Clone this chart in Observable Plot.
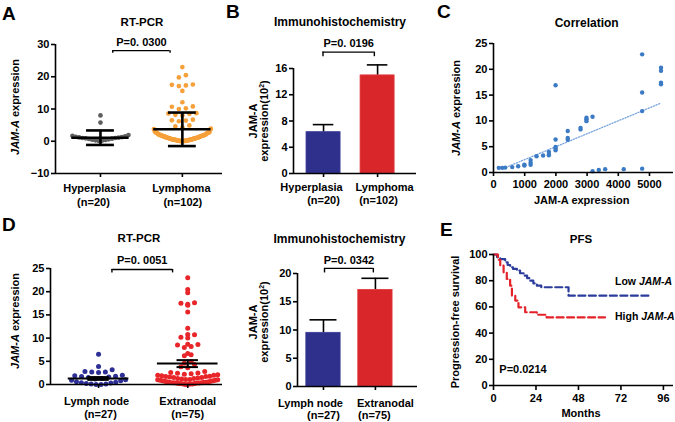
<!DOCTYPE html>
<html>
<head>
<meta charset="utf-8">
<script src="https://cdn.jsdelivr.net/npm/d3@7"></script>
<script src="https://cdn.jsdelivr.net/npm/@observablehq/plot@0.6"></script>
<style>
  html, body { margin: 0; padding: 0; background: #fff; }
  #fig { position: relative; width: 675px; height: 422px; overflow: hidden;
         font-family: "Liberation Sans", Arial, Helvetica, sans-serif; font-weight: bold; color: #000; }
  .txt { position: absolute; white-space: nowrap; line-height: 1; }
  .vtxt { position: absolute; white-space: nowrap; text-align: center; }
  sup { font-size: 7px; vertical-align: 4px; line-height: 0; }
</style>
</head>
<body>
<div id="fig"></div>
<script>
// ---------------- DATA ----------------
// Panel A / D : RT-PCR JAM-A expression (individual samples)
const hyperplasiaRT = [8.0, 5.8, 1.9, 1.7, 1.5, 1.4, 1.3, 1.2, 1.1, 1.0, 1.0, 0.9, 0.8, 0.7, 0.6, 0.5, 0.4, 0.3, 0.2, 0.1];
const lymphNodeRT = [6.5, 3.9, 3.2, 2.8, 2.7, 2.7, 2.6, 2.0, 1.9, 1.8, 1.7, 1.6, 1.5, 1.3, 1.2, 1.0, 0.9, 0.8, 0.6, 0.5, 0.4, 0.3, 0.2, 0.1, 0.1, 0.0, 0.0];
const extranodalRT = [23.0, 20.5, 19.8, 17.6, 17.5, 17.3, 17.1, 15.6, 12.1, 10.8, 10.7, 10.2, 10.0, 8.7, 8.6, 8.5, 8.2, 8.0, 6.7, 6.4, 6.2, 4.9, 4.6, 4.3, 3.8, 3.6,
  2.8, 2.6, 2.5, 2.4, 2.3, 2.2, 2.1, 2.0, 2.0, 1.9, 1.8, 1.7, 1.7, 1.6, 1.5, 1.5, 1.4, 1.3, 1.3, 1.2, 1.1, 1.1, 1.0, 1.0, 0.9, 0.9, 0.8, 0.8,
  0.7, 0.7, 0.6, 0.6, 0.5, 0.5, 0.5, 0.4, 0.4, 0.4, 0.3, 0.3, 0.3, 0.2, 0.2, 0.2, 0.1, 0.1, 0.1, 0.0, 0.0];
const lymphomaRT = lymphNodeRT.concat(extranodalRT);

const aCategories = ["Hyperplasia", "Lymphoma"];
const aCounts = ["(n=20)", "(n=102)"];
const aMean = [1.1, 3.7];
const aSD = [2.25, 5.2];
const aYTicks = [-10, 0, 10, 20, 30];
const aP = "P=0. 0300";

const dCategories = ["Lymph node", "Extranodal"];
const dCounts = ["(n=27)", "(n=75)"];
const dMean = [1.3, 4.5];
const dSEM = [0.3, 0.75];
const dYTicks = [0, 5, 10, 15, 20, 25];
const dP = "P=0. 0051";

// Panel B / lower middle : immunohistochemistry bars
const bCategories = ["Hyperplasia", "Lymphoma"];
const bCounts = ["(n=20)", "(n=102)"];
const bMean = [6.3, 14.95];
const bErr = [1.15, 1.6];
const bYTicks = [0, 4, 8, 12, 16];
const bP = "P=0. 0196";

const eCategories = ["Lymph node", "Extranodal"];
const eCounts = ["(n=27)", "(n=75)"];
const eMean = [9.5, 17.1];
const eErr = [2.3, 2.05];
const eYTicks = [0, 5, 10, 15, 20];
const eP = "P=0. 0342";

// Panel C : correlation
const corrX = [170, 280, 375, 600, 790, 990, 990, 1190, 1190, 1190, 1380, 1590, 1775, 1775, 1775,
  1990, 1990, 1990, 1990, 1990, 2380, 2380, 2380, 2790, 2790, 2980, 2980, 2980, 3175, 3175,
  3375, 3580, 4175, 4765, 4765, 4765, 4765, 5370, 5370, 5370, 5370];
const corrY = [0.9, 0.9, 0.95, 1.05, 1.2, 1.35, 1.5, 2.4, 1.9, 1.5, 3.15, 3.3, 4.0, 3.6, 3.35,
  16.9, 6.4, 4.95, 4.65, 4.3, 8.05, 6.7, 6.35, 8.65, 8.35, 10.6, 10.3, 9.95, 10.8, 0.25,
  0.5, 0.65, 0.65, 22.9, 15.5, 11.9, 0.75, 20.3, 19.7, 17.4, 17.1];
const fitX = [400, 5350];
const fitY = [1.0, 13.4];
const cXTicks = [0, 1000, 2000, 3000, 4000, 5000];
const cYTicks = [0, 5, 10, 15, 20, 25];

// Panel E : PFS Kaplan-Meier
const lowT = [0, 2, 3.8, 6.6, 8, 9.4, 11, 13.2, 15, 17, 19, 20.8, 22.5, 24.5, 27, 42.4, 88];
const lowS = [100, 98, 96.5, 94, 92, 90.2, 89, 87.7, 85.7, 83.8, 81.9, 80, 78, 76.2, 75, 68.6, 68.6];
const highT = [0, 2.5, 3.8, 5.7, 7.5, 9.4, 10.4, 12.3, 14.1, 17.9, 24.5, 30, 63];
const highS = [100, 96, 91.5, 86.4, 81.3, 76.2, 68.6, 64.8, 59.7, 55.9, 54, 52, 52];
const kmXTicks = [0, 24, 48, 72, 96];
const kmYTicks = [0, 20, 40, 60, 80, 100];
const kmP = "P=0.0214";

// ---------------- HELPERS ----------------
const FONT = '"Liberation Sans", Arial, Helvetica, sans-serif';
const baseStyle = {fontFamily: FONT, fontSize: "11px", fontWeight: "bold", background: "transparent", color: "#000", overflow: "visible"};
const fig = document.getElementById("fig");
const AX = 1.6;

function addPlot(svg, left, top) {
  const d = document.createElement("div");
  d.style.cssText = `position:absolute;left:${left}px;top:${top}px;`;
  d.appendChild(svg);
  fig.appendChild(d);
}
function addText(html, x, baseline, size = 11, anchor = "middle") {
  const d = document.createElement("div");
  d.className = "txt";
  d.innerHTML = html;
  d.style.fontSize = size + "px";
  d.style.left = x + "px";
  d.style.top = (baseline - 0.85 * size) + "px";
  if (anchor === "middle") d.style.transform = "translateX(-50%)";
  fig.appendChild(d);
}
function addVText(html, cx, cy, size = 11, lh = 11) {
  const d = document.createElement("div");
  d.className = "vtxt";
  d.innerHTML = html;
  d.style.fontSize = size + "px";
  d.style.lineHeight = lh + "px";
  d.style.left = cx + "px";
  d.style.top = cy + "px";
  d.style.transform = "translate(-50%,-50%) rotate(-90deg)";
  fig.appendChild(d);
}
// Prism-like scatter: bin values into rows (by edges), spread each row horizontally,
// lowest values of a row in the middle
function swarm(values, center, edges, stepPx, maxHalfPx, pxPerUnitX) {
  const sorted = [...values].sort((a, b) => a - b);
  const bins = d3.groups(sorted, v => d3.bisectRight(edges, v));
  const out = [];
  for (const [, vs] of bins) {
    const n = vs.length;
    const s = n > 1 ? Math.min(stepPx, 2 * maxHalfPx / (n - 1)) : 0;
    const slots = d3.range(n).map(j => (j - (n - 1) / 2) * s)
      .sort((a, b) => Math.abs(a) - Math.abs(b) || a - b);
    vs.forEach((v, i) => out.push({x: center + slots[i] / pxPerUnitX, y: v}));
  }
  return out;
}
function statsOf(means, errs, lower) {
  return means.map((m, i) => ({pos: i + 1, mean: m, hi: m + errs[i], lo: lower ? m - errs[i] : m}));
}
// category tick labels: two lines, each with its own horizontal nudge (px)
function catLabels(names, counts, base1, base2, dx1, dx2) {
  const marks = [];
  names.forEach((n, i) => {
    marks.push(Plot.text([n], {x: i + 1, frameAnchor: "bottom", lineAnchor: "bottom", dy: base1, dx: dx1[i], text: d => d, fontSize: 11, fontWeight: "bold"}));
    marks.push(Plot.text([counts[i]], {x: i + 1, frameAnchor: "bottom", lineAnchor: "bottom", dy: base2, dx: dx2[i], text: d => d, fontSize: 11, fontWeight: "bold"}));
  });
  return marks;
}
const catTicks = () => Plot.axisX({ticks: [1, 2], tickFormat: () => "", tickSize: 4, strokeWidth: AX, label: null});

// ---------------- PANEL A ----------------
{
  const W = 225, H = 211, m = {top: 44, right: 3, bottom: 38, left: 55};
  const xd = [0.451, 2.49], yd = [aYTicks[0], aYTicks[aYTicks.length - 1]];
  const px = (W - m.left - m.right) / (xd[1] - xd[0]);
  const sHyp = swarm(hyperplasiaRT, 1, [0, 2.5, 7], 7, 28, px);
  const sLym = swarm(lymphomaRT, 2, [0, 4, 5.5, 7.5, 9.5, 12, 14, 16.5, 18, 19.5, 21], 7, 28.5, px);
  const st = statsOf(aMean, aSD, true);
  const br = {x1: 1.15, x2: 1.85, y: 28.1, y2: 27.3};
  addPlot(Plot.plot({
    width: W, height: H, marginTop: m.top, marginRight: m.right, marginBottom: m.bottom, marginLeft: m.left,
    x: {domain: xd}, y: {domain: yd}, style: baseStyle,
    marks: [
      Plot.dot(sHyp, {x: "x", y: "y", r: 2.35, fill: "#5e5e5e"}),
      Plot.dot(sLym, {x: "x", y: "y", r: 2.35, fill: "#f6a03a"}),
      Plot.ruleY(st, {y: "mean", x1: d => d.pos - 0.35, x2: d => d.pos + 0.35, strokeWidth: 2.6}),
      Plot.ruleX(st, {x: "pos", y1: "lo", y2: "hi", strokeWidth: 2.6}),
      Plot.ruleY(st, {y: "hi", x1: d => d.pos - 0.17, x2: d => d.pos + 0.17, strokeWidth: 2.6}),
      Plot.ruleY(st, {y: "lo", x1: d => d.pos - 0.17, x2: d => d.pos + 0.17, strokeWidth: 2.6}),
      Plot.ruleY([br], {y: "y", x1: "x1", x2: "x2", strokeWidth: 1.4}),
      Plot.ruleX([br.x1, br.x2], {y1: br.y, y2: br.y2, strokeWidth: 1.4}),
      Plot.text([aP], {x: 1.5, y: br.y, dy: -8, text: d => d, fontSize: 11, fontWeight: "bold"}),
      Plot.ruleY([yd[0]], {strokeWidth: AX}),
      Plot.ruleX([xd[0]], {strokeWidth: AX}),
      Plot.axisY({ticks: aYTicks, tickSize: 4, tickPadding: 2, strokeWidth: AX, fontWeight: "bold", label: null}),
      catTicks(),
      ...catLabels(aCategories, aCounts, 18.7, 32, [-6, -1], [-7, 0.5])
    ]
  }), 0, 0);
}

// ---------------- PANEL D ----------------
{
  const W = 225, H = 211, m = {top: 57, right: 3, bottom: 38, left: 50};
  const xd = [0.461, 2.39], yd = [dYTicks[0], dYTicks[dYTicks.length - 1]];
  const px = (W - m.left - m.right) / (xd[1] - xd[0]);
  const py = (H - m.top - m.bottom) / (yd[1] - yd[0]);
  const step = 5 / py;
  const edges = d3.range(0, 25, step);
  const sLn = swarm(lymphNodeRT, 1, edges, 6.8, 27, px);
  const sEx = swarm(extranodalRT, 2, edges, 6.8, 30, px);
  const st = statsOf(dMean, dSEM, true);
  const br = {x1: 1.15, x2: 1.83, y: 24.8, y2: 24.05};
  addPlot(Plot.plot({
    width: W, height: H, marginTop: m.top, marginRight: m.right, marginBottom: m.bottom, marginLeft: m.left,
    x: {domain: xd}, y: {domain: yd}, style: baseStyle,
    marks: [
      Plot.dot(sLn, {x: "x", y: "y", r: 2.5, fill: "#2d2f96"}),
      Plot.dot(sEx, {x: "x", y: "y", r: 2.5, fill: "#e8262a"}),
      Plot.ruleY(st, {y: "mean", x1: d => d.pos - 0.34, x2: d => d.pos + 0.34, strokeWidth: 2}),
      Plot.ruleX(st, {x: "pos", y1: "lo", y2: "hi", strokeWidth: 2}),
      Plot.ruleY(st, {y: "hi", x1: d => d.pos - 0.12, x2: d => d.pos + 0.12, strokeWidth: 2}),
      Plot.ruleY(st, {y: "lo", x1: d => d.pos - 0.12, x2: d => d.pos + 0.12, strokeWidth: 2}),
      Plot.ruleY([br], {y: "y", x1: "x1", x2: "x2", strokeWidth: 1.4}),
      Plot.ruleX([br.x1, br.x2], {y1: br.y, y2: br.y2, strokeWidth: 1.4}),
      Plot.text([dP], {x: 1.49, y: br.y, dy: -9, text: d => d, fontSize: 11, fontWeight: "bold"}),
      Plot.ruleY([yd[0]], {strokeWidth: AX}),
      Plot.ruleX([xd[0]], {strokeWidth: AX}),
      Plot.axisY({ticks: dYTicks, tickSize: 4, tickPadding: 2, strokeWidth: AX, fontWeight: "bold", label: null}),
      catTicks(),
      ...catLabels(dCategories, dCounts, 20, 33.4, [-2, 0], [2, 0])
    ]
  }), 0, 211);
}

// ---------------- BAR PANELS ----------------
function barPanel(cats, counts, means, errs, ticks, pText, opts, left, top) {
  const {m, xd, half, cap, br, pdy, lab} = opts;
  const W = 225, H = 211;
  const yd = [ticks[0], ticks[ticks.length - 1]];
  const st = statsOf(means, errs, false);
  addPlot(Plot.plot({
    width: W, height: H, marginTop: m.top, marginRight: m.right, marginBottom: m.bottom, marginLeft: m.left,
    x: {domain: xd}, y: {domain: yd}, style: baseStyle,
    marks: [
      Plot.ruleX(st, {x: "pos", y1: "mean", y2: "hi", strokeWidth: 1.6}),
      Plot.ruleY(st, {y: "hi", x1: d => d.pos - cap, x2: d => d.pos + cap, strokeWidth: 1.6}),
      Plot.rect(st.slice(0, 1), {x1: d => d.pos - half, x2: d => d.pos + half, y1: 0, y2: "mean", fill: "#2f2f8c", stroke: "#3b3b98", strokeWidth: 0.8}),
      Plot.rect(st.slice(1), {x1: d => d.pos - half, x2: d => d.pos + half, y1: 0, y2: "mean", fill: "#d9262b", stroke: "#e0393d", strokeWidth: 0.8}),
      Plot.ruleY([br], {y: "y", x1: "x1", x2: "x2", strokeWidth: 1.4}),
      Plot.ruleX([br.x1, br.x2], {y1: br.y, y2: br.y2, strokeWidth: 1.4}),
      Plot.text([pText], {x: (br.x1 + br.x2) / 2, y: br.y, dy: pdy, text: d => d, fontSize: 11, fontWeight: "bold"}),
      Plot.ruleY([yd[0]], {strokeWidth: AX}),
      Plot.ruleX([xd[0]], {strokeWidth: AX}),
      Plot.axisY({ticks, tickSize: 4, tickPadding: 2, strokeWidth: AX, fontWeight: "bold", label: null}),
      catTicks(),
      ...catLabels(cats, counts, lab.b1, lab.b2, lab.dx1, lab.dx2)
    ]
  }), left, top);
}
barPanel(bCategories, bCounts, bMean, bErr, bYTicks, bP,
  {m: {top: 68, right: 34, bottom: 38, left: 68}, xd: [0.444, 2.72], half: 0.315, cap: 0.19,
   br: {x1: 0.99, x2: 1.94, y: 18.5, y2: 17.8}, pdy: -9,
   lab: {b1: 17.4, b2: 30.7, dx1: [-12, 7], dx2: [0, 1]}}, 225, 0);
barPanel(eCategories, eCounts, eMean, eErr, eYTicks, eP,
  {m: {top: 62, right: 33, bottom: 36, left: 72}, xd: [0.5, 2.81], half: 0.33, cap: 0.26,
   br: {x1: 1.02, x2: 1.96, y: 20.9, y2: 20.1}, pdy: -8,
   lab: {b1: 20, b2: 32.3, dx1: [-13, 10], dx2: [0, -1]}}, 225, 211);

// ---------------- PANEL C ----------------
{
  const W = 225, H = 211, m = {top: 43, right: 2, bottom: 39, left: 43};
  const xd = [0, 5770], yd = [cYTicks[0], cYTicks[cYTicks.length - 1]];
  const pts = corrX.map((x, i) => ({x, y: corrY[i]}));
  const fit = fitX.map((x, i) => ({x, y: fitY[i]}));
  addPlot(Plot.plot({
    width: W, height: H, marginTop: m.top, marginRight: m.right, marginBottom: m.bottom, marginLeft: m.left,
    x: {domain: xd}, y: {domain: yd}, style: baseStyle,
    marks: [
      Plot.line(fit, {x: "x", y: "y", stroke: "#7aa6de", strokeWidth: 1.3, strokeDasharray: "1.2,1.6"}),
      Plot.dot(pts, {x: "x", y: "y", r: 2.2, fill: "#3b7ac4"}),
      Plot.ruleY([yd[0]], {strokeWidth: AX}),
      Plot.ruleX([xd[0]], {strokeWidth: AX}),
      Plot.axisY({ticks: cYTicks, tickSize: 4, tickPadding: 2, strokeWidth: AX, fontWeight: "bold", label: null}),
      Plot.axisX({ticks: cXTicks, tickFormat: d3.format("d"), tickSize: 4, tickPadding: 4, strokeWidth: AX, fontWeight: "bold", label: null})
    ]
  }), 450, 0);
}

// ---------------- PANEL E (KM) ----------------
{
  const W = 225, H = 211, m = {top: 43, right: 2, bottom: 37, left: 43};
  const xd = [0, 101.7], yd = [0, 100];
  const low = lowT.map((t, i) => ({t, s: lowS[i]}));
  const high = highT.map((t, i) => ({t, s: highS[i]}));
  addPlot(Plot.plot({
    width: W, height: H, marginTop: m.top, marginRight: m.right, marginBottom: m.bottom, marginLeft: m.left,
    x: {domain: xd}, y: {domain: yd}, style: baseStyle,
    marks: [
      Plot.line(low, {x: "t", y: "s", curve: "step-after", stroke: "#2b3c9c", strokeWidth: 2.2, strokeDasharray: "7,3.5"}),
      Plot.line(high, {x: "t", y: "s", curve: "step-after", stroke: "#e3222a", strokeWidth: 2.2, strokeDasharray: "7,3.5"}),
      Plot.ruleY([yd[0]], {strokeWidth: AX}),
      Plot.ruleX([xd[0]], {strokeWidth: AX}),
      Plot.axisY({ticks: kmYTicks, tickSize: 4, tickPadding: 2, strokeWidth: AX, fontWeight: "bold", label: null}),
      Plot.axisX({ticks: kmXTicks, tickSize: 5, tickPadding: 4, strokeWidth: AX, fontWeight: "bold", label: null})
    ]
  }), 450, 211);
}

// ---------------- TEXT OVERLAYS ----------------
addText("A", 2, 20, 19, "start");
addText("B", 226, 18.5, 19, "start");
addText("C", 437, 18.5, 19, "start");
addText("D", 2, 231, 19, "start");
addText("E", 440, 236, 19, "start");

addText("RT-PCR", 142, 27, 11.5);
addText("Immunohistochemistry", 340, 26, 12);
addText("Correlation", 586.7, 26.7, 12);
addText("RT-PCR", 139, 242.7, 11.5);
addText("Immunohistochemistry", 339.5, 242.7, 12);
addText("PFS", 581, 243.7, 11.5);

addVText("<i>JAM-A</i> expression", 15, 107);
addVText("JAM-A<br>expression(10<sup>2</sup>)", 258, 121, 11, 10.5);
addVText("<i>JAM-A</i> expression", 456, 108);
addVText("<i>JAM-A</i> expression", 15, 321);
addVText("JAM-A<br>expression(10<sup>2</sup>)", 258, 322, 11, 10.5);
addVText("Progression-free survival", 454.5, 321.5);

addText("JAM-A expression", 581.7, 204);
addText("Months", 581, 417);
addText("Low <i>JAM-A</i>", 615, 284.5, 10.5, "start");
addText("High <i>JAM-A</i>", 615, 319.5, 10.5, "start");
addText(kmP, 499.3, 373, 11, "start");
</script>
</body>
</html>
